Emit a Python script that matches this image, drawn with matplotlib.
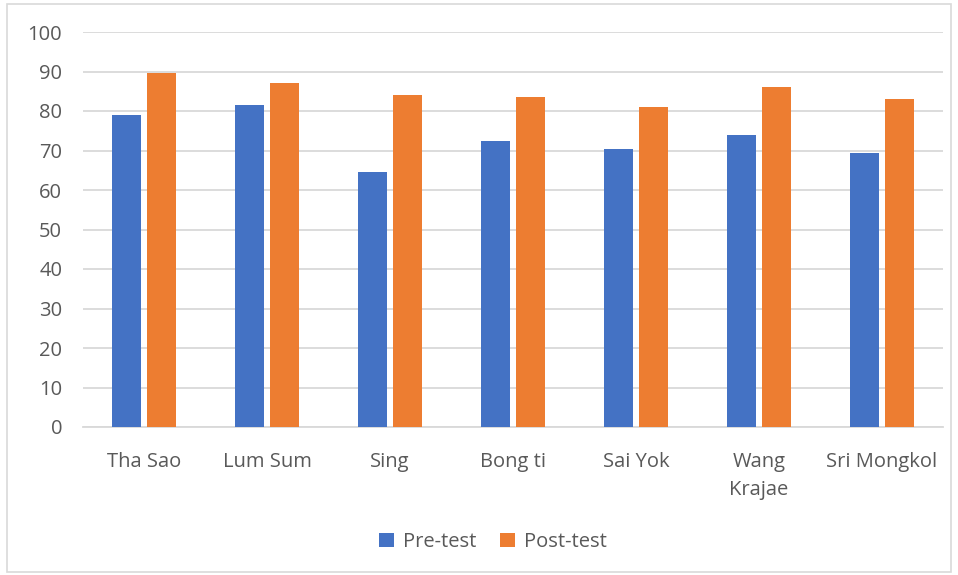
import matplotlib
matplotlib.use("Agg")
import matplotlib.pyplot as plt
import numpy as np
from matplotlib.patches import Rectangle

categories = ["Tha Sao", "Lum Sum", "Sing", "Bong ti", "Sai Yok", "Wang\nKrajae", "Sri Mongkol"]
pre_test = [78.9, 81.4, 64.6, 72.3, 70.3, 73.8, 69.3]
post_test = [89.6, 87.0, 84.0, 83.5, 80.9, 86.0, 83.0]
yticks = [0, 10, 20, 30, 40, 50, 60, 70, 80, 90, 100]

plt.rcParams["font.family"] = ["Open Sans", "DejaVu Sans"]
text_color = "#595959"
grid_color = "#d9d9d9"
fs = 14.5

W, H = 958, 575
fig = plt.figure(figsize=(W / 100, H / 100), dpi=100)
fig.patch.set_facecolor("white")

# light frame around the chart area
fig.add_artist(Rectangle((7 / W, 3 / H), 944 / W, 568 / H, transform=fig.transFigure,
                         fill=False, edgecolor="#d9d9d9", linewidth=1.2))

left, right = 83 / W, 943 / W
bottom, top = 1 - 427 / H, 1 - 32 / H
ax = fig.add_axes([left, bottom, right - left, top - bottom])

x = np.arange(len(categories))
bw = 0.236
off = 0.142
ax.bar(x - off, pre_test, width=bw, color="#4472C4", label="Pre-test", zorder=3)
ax.bar(x + off, post_test, width=bw, color="#ED7D31", label="Post-test", zorder=3)

ax.set_xlim(-0.5, len(categories) - 0.5)
ax.set_ylim(0, 100)
ax.set_yticks(yticks)
ax.yaxis.grid(True, color=grid_color, linewidth=1.3, zorder=0)
ax.set_axisbelow(True)
for s in ["top", "right", "left"]:
    ax.spines[s].set_visible(False)
ax.spines["bottom"].set_color(grid_color)
ax.spines["bottom"].set_linewidth(1.3)
ax.tick_params(axis="both", length=0, labelsize=fs, colors=text_color)
ax.tick_params(axis="y", pad=15)
ax.tick_params(axis="x", pad=18)
ax.set_xticks(x)
ax.set_xticklabels(categories, linespacing=1.55, va="top")

leg = fig.legend(loc="center", bbox_to_anchor=(493 / W, 1 - 542 / H), ncol=2, frameon=False,
                 fontsize=fs, handlelength=0.75, handleheight=0.75, handletextpad=0.45,
                 columnspacing=1.15, labelcolor=text_color)

fig.savefig("out.png", dpi=100, facecolor="white")
